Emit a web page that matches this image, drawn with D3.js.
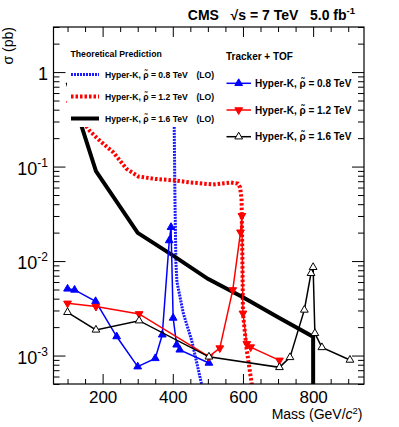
<!DOCTYPE html>
<html><head><meta charset="utf-8">
<script src="https://cdn.jsdelivr.net/npm/d3@7"></script>
<style>body{margin:0;background:#fff} text{font-family:"Liberation Sans",Arial,Helvetica,sans-serif}</style>
</head><body>
<svg id="c" width="399" height="427"></svg>
<script>
// ---- data ----
const massMajorTicks = [200, 400, 600, 800];
const massMinorTicks = [100, 150, 250, 300, 350, 450, 500, 550, 650, 700, 750, 850, 900];
const sigmaMajorTicks = [1, 0.1, 0.01, 0.001];
const sigmaTickLabels = ["1", "10|-1", "10|-2", "10|-3"];

// theoretical predictions (LO)
const th08Mass = [100, 200, 300, 400, 404, 406, 409, 412, 430, 454, 482, 500];
const th08Xsec = [1.4, 1.5, 1.6, 1.5, 0.3, 0.05, 0.0094, 0.006, 0.0028, 0.00144, 0.0005, 0.0002];
const th12Mass = [100, 164, 183, 202, 230, 268, 302, 350, 406, 450, 515, 565, 585, 592, 596, 598, 600, 610, 625, 640];
const th12Xsec = [0.5, 0.237, 0.202, 0.174, 0.142, 0.0948, 0.0785, 0.074, 0.0713, 0.068, 0.0646, 0.0679, 0.066, 0.06, 0.045, 0.013, 0.0028, 0.0012, 0.0005, 0.0002];
const th16Mass = [100, 181, 300, 400, 500, 600, 700, 800, 800.5];
const th16Xsec = [0.78, 0.0894, 0.0199, 0.0115, 0.00648, 0.00414, 0.00254, 0.00158, 0.00001];

// Tracker + TOF
const tof08Mass = [100, 120, 180, 240, 300, 350, 370, 390, 395, 401, 411, 420, 503];
const tof08Xsec = [0.00508, 0.00495, 0.00375, 0.00159, 0.000763, 0.000934, 0.00166, 0.0165, 0.0228, 0.0025, 0.0013, 0.00115, 0.000835];
const tof12Mass = [100, 181, 304, 503, 534, 571, 593, 597, 600, 611, 622, 704];
const tof12Xsec = [0.00357, 0.0033, 0.00276, 0.000973, 0.0012, 0.00495, 0.0202, 0.0302, 0.0028, 0.00133, 0.00123, 0.00089];
const tof16Mass = [100, 181, 304, 503, 704, 734, 775, 794, 800, 805, 825, 905];
const tof16Xsec = [0.00287, 0.00187, 0.00234, 0.00097, 0.00075, 0.000957, 0.00304, 0.00743, 0.0086, 0.00172, 0.00122, 0.000898];

const thLabels = ["0.8", "1.2", "1.6"];
// ---- chart ----
const svg = d3.select("#c");
const L = 53.5, R = 364, T = 27, B = 384;
const x = d3.scaleLinear().domain([60, 945]).range([L, R]);
const y = d3.scaleLog().domain([5e-4, 3]).range([B, T]);

svg.append("clipPath").attr("id", "clip").append("rect")
  .attr("x", L).attr("y", T).attr("width", R - L).attr("height", B - T);

const zip = (ms, vs) => ms.map((m, i) => ({m, v: vs[i]}));
const line = d3.line().x(d => x(d.m)).y(d => y(d.v));
const plot = svg.append("g").attr("clip-path", "url(#clip)");

// theory curves
const thStyles = [
  {ms: th08Mass, vs: th08Xsec, color: "#1a1aff", w: 3, dash: "2,1"},
  {ms: th12Mass, vs: th12Xsec, color: "#ff0000", w: 4, dash: "2.5,2"},
  {ms: th16Mass, vs: th16Xsec, color: "#000000", w: 4, dash: null}
];
thStyles.forEach(s => {
  plot.append("path").datum(zip(s.ms, s.vs)).attr("d", line)
    .attr("fill", "none").attr("stroke", s.color).attr("stroke-width", s.w)
    .attr("stroke-dasharray", s.dash);
});

// data series
const up = d3.symbol().type(d3.symbolTriangle).size(26);
const dataStyles = [
  {ms: tof08Mass, vs: tof08Xsec, color: "#0000ff", rot: 0, fill: "#0000ff"},
  {ms: tof12Mass, vs: tof12Xsec, color: "#ff0000", rot: 180, fill: "#ff0000"},
  {ms: tof16Mass, vs: tof16Xsec, color: "#000000", rot: 0, fill: "#ffffff"}
];
const dataG = svg.append("g");
dataStyles.forEach(s => {
  const pts = zip(s.ms, s.vs);
  dataG.append("path").datum(pts).attr("d", line).attr("fill", "none")
    .attr("stroke", s.color).attr("stroke-width", 1.5);
  dataG.selectAll(null).data(pts).enter().append("path").attr("d", up)
    .attr("transform", d => `translate(${x(d.m)},${y(d.v)}) rotate(${s.rot})`)
    .attr("fill", s.fill).attr("stroke", s.color).attr("stroke-width", 1);
});

// left legend (white box)
const lg = svg.append("g");
lg.append("rect").attr("x", 67).attr("y", 40).attr("width", 157).attr("height", 87).attr("fill", "#fff");
lg.append("text").attr("x", 70.5).attr("y", 57).attr("font-size", 8.7).attr("font-weight", "bold").text("Theoretical Prediction");
thStyles.forEach((s, i) => {
  const yy = 74.5 + i * 22;
  lg.append("line").attr("x1", 71).attr("x2", 99).attr("y1", yy).attr("y2", yy)
    .attr("stroke", s.color).attr("stroke-width", s.w).attr("stroke-dasharray", s.dash);
  lg.append("text").attr("x", 105).attr("y", yy + 3.2).attr("font-size", 8.6).attr("font-weight", "bold")
    .text("Hyper-K, ρ\u0303 = " + thLabels[i] + " TeV");
  lg.append("text").attr("x", 196.5).attr("y", yy + 3.2).attr("font-size", 8.6).attr("font-weight", "bold").text("(LO)");
});

// right legend
const rg = svg.append("g");
rg.append("text").attr("x", 226).attr("y", 59.5).attr("font-size", 10).attr("font-weight", "bold").text("Tracker + TOF");
dataStyles.forEach((s, i) => {
  const yy = 83.3 + i * 26.7;
  rg.append("line").attr("x1", 226.5).attr("x2", 251).attr("y1", yy).attr("y2", yy)
    .attr("stroke", s.color).attr("stroke-width", 1.5);
  rg.append("path").attr("d", up).attr("transform", `translate(238.7,${yy}) rotate(${s.rot})`)
    .attr("fill", s.fill).attr("stroke", s.color).attr("stroke-width", 1);
  rg.append("text").attr("x", 255).attr("y", yy + 3.6).attr("font-size", 10).attr("font-weight", "bold")
    .text("Hyper-K, ρ\u0303 = " + thLabels[i] + " TeV");
});

// axes
function styleAxis(g) { g.select(".domain").remove(); g.selectAll("line").attr("stroke", "#000"); }
const ySubTicks = [];
[0.001, 0.01, 0.1, 1].forEach(p => { for (let k = 2; k <= 9; k++) { const v = p * k; if (v >= 5e-4 && v <= 3) ySubTicks.push(v); } });
[5e-4, 6e-4, 7e-4, 8e-4, 9e-4].forEach(v => ySubTicks.push(v));

svg.append("g").attr("transform", `translate(0,${B})`).call(d3.axisBottom(x).tickValues(massMinorTicks).tickSize(-5).tickFormat("")).call(styleAxis);
const bx = svg.append("g").attr("transform", `translate(0,${B})`).call(d3.axisBottom(x).tickValues(massMajorTicks).tickSize(-10).tickPadding(7).tickFormat(d3.format("d"))).call(styleAxis);
bx.selectAll("text").attr("font-size", 17).attr("fill", "#000").style("font-family", '"Liberation Sans",Arial,sans-serif');
svg.append("g").attr("transform", `translate(0,${T})`).call(d3.axisTop(x).tickValues(massMinorTicks).tickSize(-5).tickFormat("")).call(styleAxis);
svg.append("g").attr("transform", `translate(0,${T})`).call(d3.axisTop(x).tickValues(massMajorTicks).tickSize(-10).tickFormat("")).call(styleAxis);

svg.append("g").attr("transform", `translate(${L},0)`).call(d3.axisLeft(y).tickValues(ySubTicks).tickSize(-6).tickFormat("")).call(styleAxis);
svg.append("g").attr("transform", `translate(${L},0)`).call(d3.axisLeft(y).tickValues(sigmaMajorTicks).tickSize(-12).tickFormat("")).call(styleAxis);
svg.append("g").attr("transform", `translate(${R},0)`).call(d3.axisRight(y).tickValues(ySubTicks).tickSize(-6).tickFormat("")).call(styleAxis);
svg.append("g").attr("transform", `translate(${R},0)`).call(d3.axisRight(y).tickValues(sigmaMajorTicks).tickSize(-12).tickFormat("")).call(styleAxis);

sigmaMajorTicks.forEach((v, i) => {
  const parts = sigmaTickLabels[i].split("|");
  const t = svg.append("text").attr("x", 48).attr("y", y(v) + 8).attr("text-anchor", "end").attr("font-size", 18);
  t.append("tspan").text(parts[0]);
  if (parts[1]) t.append("tspan").attr("font-size", 12).attr("dy", -8).text(parts[1]);
});

svg.append("rect").attr("x", L).attr("y", T).attr("width", R - L).attr("height", B - T)
  .attr("fill", "none").attr("stroke", "#000").attr("stroke-width", 1.2);

// titles
svg.append("text").attr("x", 362.5).attr("y", 419).attr("text-anchor", "end").attr("font-size", 14)
  .html('Mass (GeV/<tspan font-style="italic">c</tspan><tspan font-size="9.5" dy="-5">2</tspan><tspan dy="5">)</tspan>');
svg.append("text").attr("transform", "translate(13,27) rotate(-90)").attr("text-anchor", "end").attr("font-size", 14).text("σ (pb)");
const tt = svg.append("text").attr("x", 355).attr("y", 19.5).attr("text-anchor", "end").attr("font-size", 14)
  .attr("font-weight", "bold").style("white-space", "pre");
tt.append("tspan").text("CMS   √s = 7 TeV   5.0 fb");
tt.append("tspan").attr("font-size", 9.5).attr("dy", -6).text("-1");
</script>
</body></html>
